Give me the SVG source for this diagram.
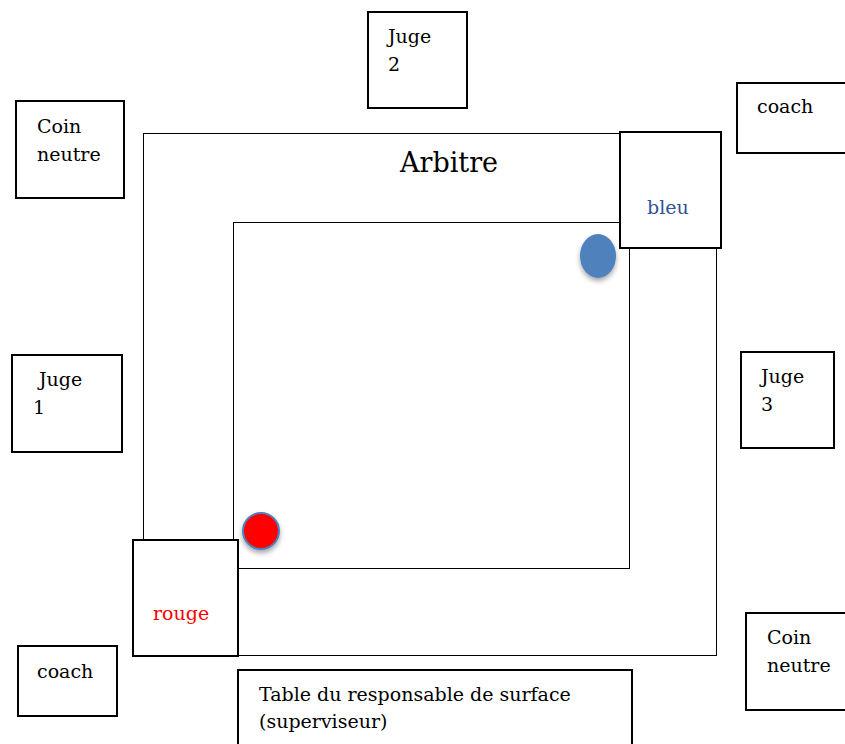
<svg xmlns="http://www.w3.org/2000/svg" width="845" height="744" viewBox="0 0 845 744">
<style>
  .t { font-family: "DejaVu Serif", "Liberation Serif", serif; font-size: 19px; fill: #000; }
  .box { fill: #fff; stroke: #000; stroke-width: 2; }
  .ring { fill: #fff; stroke: #000; stroke-width: 1; }
</style>
<defs>
  <filter id="sh" x="-50%" y="-50%" width="200%" height="200%">
    <feDropShadow dx="0" dy="3" stdDeviation="2.5" flood-color="#000" flood-opacity="0.35"/>
  </filter>
</defs>
<rect width="845" height="744" fill="#fff"/>
<g id="aire-exterieure"><rect class="ring" x="143.5" y="133.5" width="573" height="522"/></g>
<g id="aire-interieure"><rect class="ring" x="233.5" y="222.5" width="396" height="346"/></g>
<g id="arbitre"><text class="t" x="400" y="172" style="font-size:27px">Arbitre</text></g>
<g id="coin-bleu"><rect class="box" x="620" y="132" width="101" height="116"/><text class="t" x="647" y="214" style="fill:#2F5496">bleu</text></g>
<g id="coin-rouge"><rect class="box" x="133" y="540" width="105" height="116"/><text class="t" x="153" y="620" style="fill:#ff0000">rouge</text></g>
<g id="bleu-point"><ellipse cx="598" cy="256" rx="18" ry="22" fill="#4F81BD" filter="url(#sh)"/></g>
<g id="rouge-point"><circle cx="261" cy="531" r="18" fill="#ff0000" stroke="#4F81BD" stroke-width="2" filter="url(#sh)"/></g>
<g id="juge2"><rect class="box" x="368" y="12" width="99" height="96"/><text class="t" x="388" y="43">Juge</text><text class="t" x="388" y="71">2</text></g>
<g id="coin-neutre-1"><rect class="box" x="16" y="101" width="108" height="97"/><text class="t" x="37" y="133">Coin</text><text class="t" x="37" y="161">neutre</text></g>
<g id="coach-haut"><rect class="box" x="737" y="83" width="112" height="70"/><text class="t" x="757" y="113">coach</text></g>
<g id="juge1"><rect class="box" x="12" y="355" width="110" height="97"/><text class="t" x="39" y="386">Juge</text><text class="t" x="33" y="414">1</text></g>
<g id="juge3"><rect class="box" x="741" y="352" width="93" height="96"/><text class="t" x="761" y="383">Juge</text><text class="t" x="761" y="411">3</text></g>
<g id="coin-neutre-2"><rect class="box" x="746" y="613" width="103" height="97"/><text class="t" x="767" y="644">Coin</text><text class="t" x="767" y="672">neutre</text></g>
<g id="coach-bas"><rect class="box" x="18" y="646" width="99" height="70"/><text class="t" x="37" y="678">coach</text></g>
<g id="table"><rect class="box" x="238" y="670" width="394" height="80"/><text class="t" x="259" y="701">Table du responsable de surface</text><text class="t" x="259" y="728">(superviseur)</text></g>
<g id="connecteurs"></g>
</svg>
